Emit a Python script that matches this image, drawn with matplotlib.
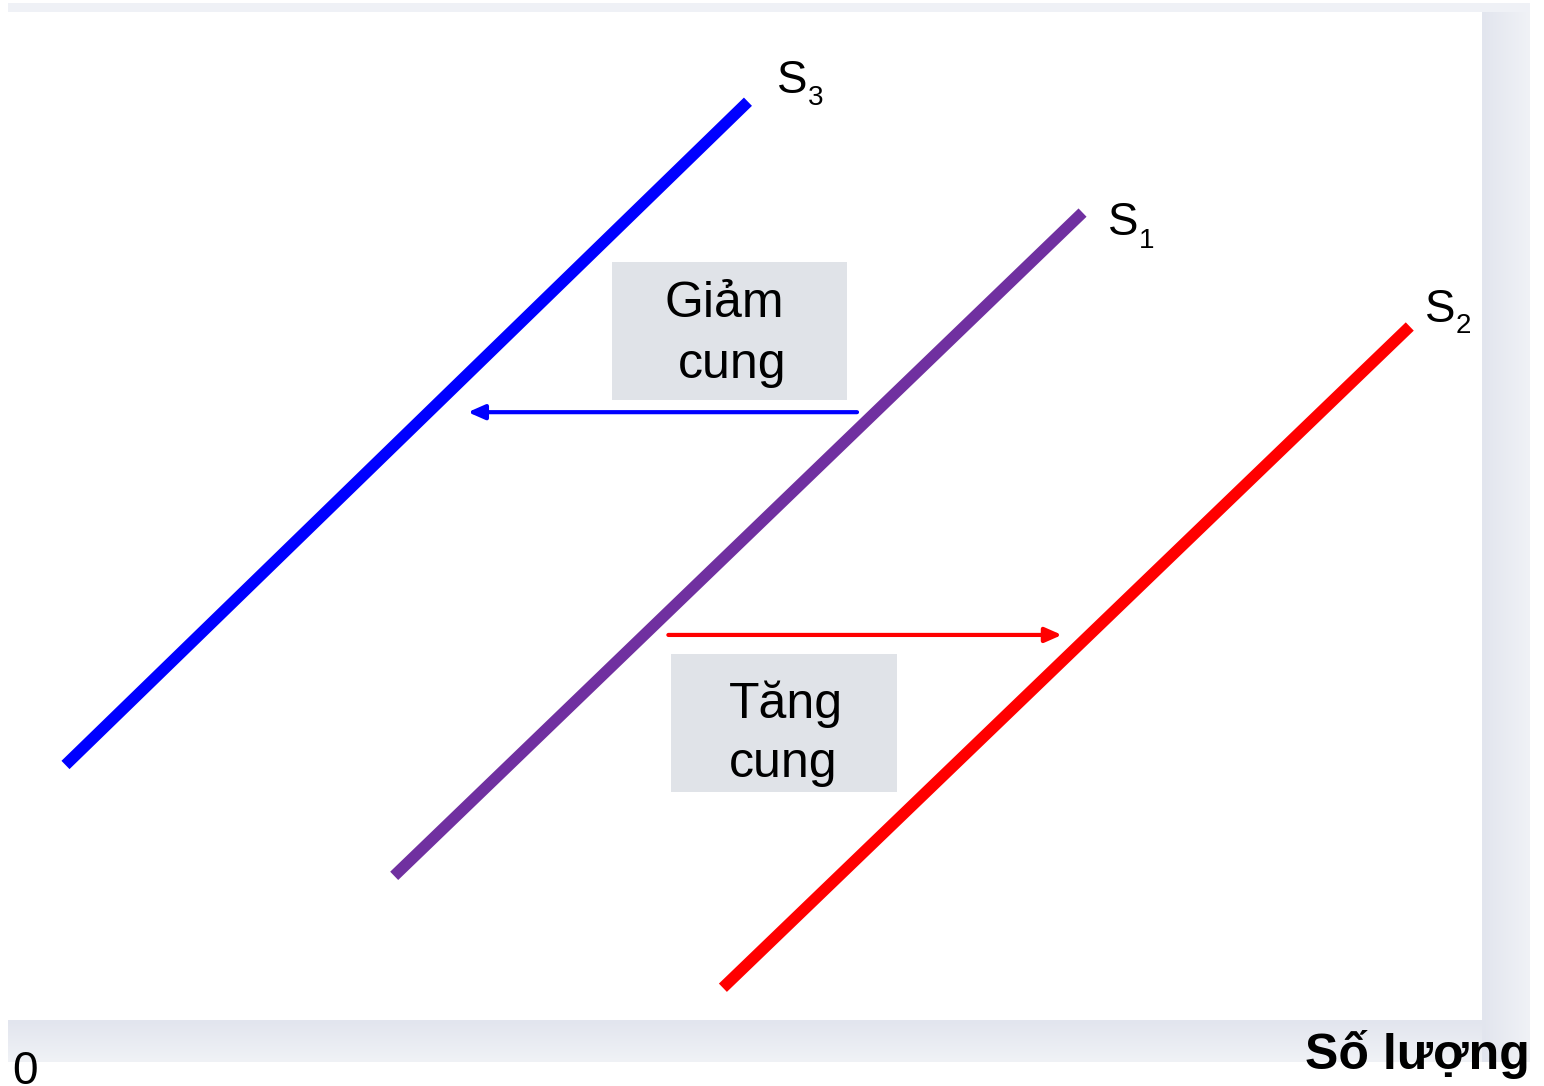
import numpy as np
import matplotlib.pyplot as plt
from matplotlib.colors import LinearSegmentedColormap
from matplotlib.patches import Rectangle

plt.rcParams['font.family'] = ['Liberation Sans', 'DejaVu Sans']

# supply curves: quantity (x) and price (y) of both ends, 0..10 scale
s3_q = [0.39, 5.02]
s3_p = [2.53, 9.11]
s1_q = [2.62, 7.29]
s1_p = [1.43, 8.01]
s2_q = [4.85, 9.51]
s2_p = [0.32, 6.88]

# shift arrows: (start q, end q, price level)
decrease_arrow = [5.76, 3.12, 6.03]
increase_arrow = [4.48, 7.15, 3.82]

# text boxes: (q0, p0, q1, p1)
box_decrease = [4.10, 6.15, 5.69, 7.52]
box_increase = [4.50, 2.26, 6.03, 3.63]

W, H = 1544, 1086
fig = plt.figure(figsize=(W / 100, H / 100), dpi=100)

# background frame (pixel coordinates), soft shadow bands
bg = fig.add_axes([0, 0, 1, 1])
bg.set_xlim(0, W)
bg.set_ylim(H, 0)
bg.axis('off')
shade = LinearSegmentedColormap.from_list('shade', ['#e2e5ee', '#f0f2f6'])
ramp = np.linspace(0, 1, 50)
bg.add_patch(Rectangle((8, 3), 1522, 9, color='#eff1f6', lw=0))
bg.imshow(ramp[None, :], cmap=shade, aspect='auto',
          extent=(1482, 1530, 1062, 12), interpolation='bilinear')
bg.imshow(ramp[:, None], cmap=shade, aspect='auto',
          extent=(8, 1482, 1062, 1020), interpolation='bilinear')
bg.set_xlim(0, W)
bg.set_ylim(H, 0)
bg.text(12, 1084, '0', fontsize=33, va='baseline', ha='left')
bg.text(1530, 1069, 'Số lượng', fontsize=36, fontweight='bold',
        va='baseline', ha='right')

ax = fig.add_axes([8 / W, (H - 1020) / H, 1474 / W, 1008 / H])
ax.set_xlim(0, 10)
ax.set_ylim(0, 10)
ax.axis('off')

ax.plot(s3_q, s3_p, color='#0000ff', lw=8.3, solid_capstyle='butt')
ax.plot(s1_q, s1_p, color='#7030a0', lw=8.3, solid_capstyle='butt')
ax.plot(s2_q, s2_p, color='#ff0000', lw=8.3, solid_capstyle='butt')

for (a, b, p), c in [(decrease_arrow, '#0000ff'), (increase_arrow, '#ff0000')]:
    ax.annotate('', xy=(b, p), xytext=(a, p),
                arrowprops=dict(arrowstyle='-|>,head_length=0.5,head_width=0.22',
                                color=c, lw=3, mutation_scale=20,
                                shrinkA=0, shrinkB=0))

for q0, p0, q1, p1 in [box_decrease, box_increase]:
    ax.add_patch(Rectangle((q0, p0), q1 - q0, p1 - p0, color='#e0e3e8', lw=0))

ax.text(4.86, 6.97, 'Giảm', fontsize=36, ha='center', va='baseline')
ax.text(4.91, 6.37, 'cung', fontsize=36, ha='center', va='baseline')
ax.text(5.28, 3.00, 'Tăng', fontsize=36, ha='center', va='baseline')
ax.text(5.26, 2.41, 'cung', fontsize=36, ha='center', va='baseline')

# curve labels with subscripts
for sx, sy, sub, bx, by in [(5.22, 9.20, '3', 5.43, 9.08),
                            (7.46, 7.79, '1', 7.67, 7.66),
                            (9.61, 6.92, '2', 9.82, 6.82)]:
    ax.text(sx, sy, 'S', fontsize=33, ha='left', va='baseline')
    ax.text(bx, by, sub, fontsize=20, ha='left', va='baseline')

fig.savefig('out.png', dpi=100)
